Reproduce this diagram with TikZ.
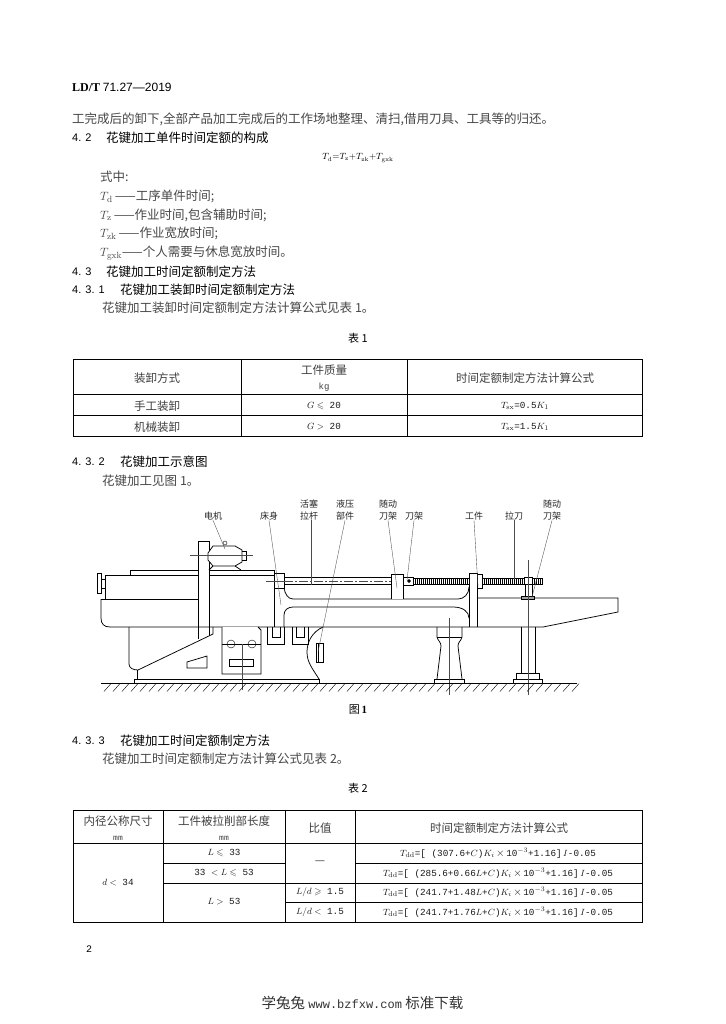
\documentclass[tikz,border=0pt]{standalone}
\usepackage[no-math]{fontspec}
\usepackage{amsmath,amssymb}
\setmainfont{Noto Sans CJK SC}
\newfontfamily\serifnum{Liberation Serif}
\newfontfamily\sansnum{Liberation Sans}
\newfontfamily\mononum{Liberation Mono}
\usetikzlibrary{calc}
\newcommand{\sym}[2]{$#1_{\mathrm{#2}}$}
\newcommand{\rowformula}[1]{$T_{\mathrm{dd}}$=[ (#1$K_i$\,{\fontsize{11}{12}\selectfont$\times$}\,10$^{-3}$+1.16]\,$I$-0.05}
\tikzset{
  bodytext/.style={anchor=west,inner sep=0pt,text=black!72,font=\fontsize{12.5}{14}\selectfont},
  headtext/.style={anchor=west,inner sep=0pt,text=black,font=\fontsize{12.5}{14}\selectfont},
  numtext/.style={anchor=west,inner sep=0pt,text=black,font=\fontsize{11}{13}\selectfont\sansnum},
  celltext/.style={inner sep=0pt,text=black!75,font=\fontsize{11.5}{15}\selectfont},
  formula/.style={inner sep=0pt,text=black!90,font=\fontsize{9.3}{12}\selectfont\mononum},
  partlabel/.style={inner sep=0pt,align=center,text=black!85,font=\fontsize{9}{12}\selectfont},
  part/.style={line width=0.75pt},
  thinpart/.style={line width=0.4pt},
  leader/.style={line width=0.35pt,black!70},
  axisline/.style={line width=0.35pt,black!70},
  outerrule/.style={line width=1pt},
  innerrule/.style={line width=0.5pt},
}
\begin{document}
\begin{tikzpicture}[x=1pt,y=-1pt]
        \useasboundingbox[fill=white](0,0)rectangle(725,1024);
        \node[anchor=west,inner sep=0pt,font=\fontsize{12}{13}\selectfont] (hdr) at (72,87){{\serifnum\bfseries LD/T}\ {\sansnum 71.27—2019}};
        \node[bodytext] (p1) at (72,119){工完成后的卸下,全部产品加工完成后的工作场地整理、清扫,借用刀具、工具等的归还。};
        \node[numtext] (n42) at (72,138){4. 2};
        \node[headtext] (h42) at (106,138){花键加工单件时间定额的构成};
        \node[inner sep=0pt,font=\fontsize{9}{11}\selectfont] (eq) at (358,158){$T_{\mathrm{d}}{=}T_{\mathrm{z}}{+}T_{\mathrm{zk}}{+}T_{\mathrm{gxk}}$};
        \node[bodytext] (w0) at (100,177){式中:};
        \node[bodytext] (w1) at (100,196){\sym{T}{d}\,——工序单件时间;};
        \node[bodytext] (w2) at (100,215){\sym{T}{z}\,——作业时间,包含辅助时间;};
        \node[bodytext] (w3) at (100,233){\sym{T}{zk}\,——作业宽放时间;};
        \node[bodytext] (w4) at (100,253){\sym{T}{gxk}——个人需要与休息宽放时间。};
        \node[numtext] (n43) at (72,272){4. 3};
        \node[headtext] (h43) at (106,272){花键加工时间定额制定方法};
        \node[numtext] (n431) at (72,290){4. 3. 1};
        \node[headtext] (h431) at (120,290){花键加工装卸时间定额制定方法};
        \node[bodytext] (p431) at (102,308){花键加工装卸时间定额制定方法计算公式见表 1。};
        \node[inner sep=0pt,font=\fontsize{11}{13}\selectfont] (t1cap) at (358,338){表 1};

        \draw[outerrule](73,359.5)rectangle(642,436.5);
        \draw[innerrule](73,394.5)--(642,394.5);
        \draw[innerrule](73,415.5)--(642,415.5);
        \draw[innerrule](241,359.5)--(241,436.5);
        \draw[innerrule](407,359.5)--(407,436.5);
        \node[celltext] (a0) at (157,378){装卸方式};
        \node[celltext,align=center] (b0) at (324,378.5){工件质量\\{\mononum\fontsize{9}{12}\selectfont kg}};
        \node[celltext] (c0) at (525,378){时间定额制定方法计算公式};
        \node[celltext] (a1) at (157,406){手工装卸};
        \node[formula] (b1) at (324,406){$G\leqslant$ 20};
        \node[formula] (c1) at (525,406){$T_{\mathrm{sx}}$=0.5$K_1$};
        \node[celltext] (a2) at (157,427){机械装卸};
        \node[formula] (b2) at (324,427){$G>$ 20};
        \node[formula] (c2) at (525,427){$T_{\mathrm{sx}}$=1.5$K_1$};

        \node[numtext] (n432) at (72,462){4. 3. 2};
        \node[headtext] (h432) at (120,462){花键加工示意图};
        \node[bodytext] (p432) at (102,481){花键加工见图 1。};

        \draw[part](97,573)rectangle(101,593);
        \draw[part](101,579)--(105.5,579)(101,588)--(105.5,588);
        \draw[part](130,575)--(130,570)--(274,570);
        \draw[part](105.5,599)--(105.5,575)--(274,575);
        \draw[part](274,570)--(274,627);
        \draw[part](101,599)--(198,599);
        \draw[part](101,599)--(101,618)..controls(101,624)and(104,627)..(110,627);
        \draw[part,fill=white](198,639)--(198,541)--(209,541)--(209,636);
        \draw[part](110,627)--(543,627)--(618,612)--(618,598)--(477,598);
        \draw[part](129,627)--(129,664)..controls(129,668)and(133,670)..(138,670)--(213,634)--(213,627);
        \draw[part](137,670)--(137,679);
        \draw[part](134,679)rectangle(319,683);
        \draw[part](187,662)--(207,656)--(207,668)--(187,668)--cycle;

        \draw[part,fill=white](208,553)--(213,546)--(235,546)--(242,550)--(242,562)--(235,566)--(213,566)--(208,560)--cycle;
        \draw[part](209,570)--(213,566)(235,566)--(241,570);
        \draw[part](242,551)--(246,551)--(246,560)--(242,560);
        \draw[thinpart](225,543)circle(2);
        \draw[axisline](190,555)--(253,555);

        \draw[part](274,573)rectangle(284,588);
        \draw[axisline](266,581)--(284,581);
        \draw[part](284,588)..controls(285,594)and(288,599)..(293,599)--(458,599)..controls(464,599)and(469,594)..(469,587);
        \draw[part](284,627)--(284,615)..controls(284,610)and(288,607)..(293,607)--(453,607)..controls(462,607)and(469,611)..(469,618);
        \draw[part](284,577)--(391,577)(284,584)--(391,584);
        \draw[axisline,dash pattern=on 9pt off 2pt on 2pt off 2pt](284,581)--(391,581);

        \draw[part,fill=white](222,627)--(222,674)--(261,674)--(261,630)--(258,627);
        \draw[thinpart](222,644)--(261,644);
        \draw[thinpart](231,644)circle(4)(252,644)circle(4);
        \draw[part](229,659)rectangle(253,666);
        \draw[axisline](242,644)--(242,690);
        \draw[part](267,627)--(267,644)--(284,644)--(284,627);
        \draw[part](272,627)--(272,637)--(280,637)--(280,627);
        \draw[part](292,627)--(292,644)--(308,644)--(308,627);
        \draw[part](296,627)--(296,637)--(304,637)--(304,627);
        \draw[part](323,627)..controls(312,632)and(307,642)..(307,652)..controls(307,662)and(312,668)..(319,679);
        \draw[part](316,643)rectangle(323,662);
        \draw[thinpart](318,643)--(318,662);

        \draw[part,fill=white](391,599)--(391,574)--(403,574)--(403,599);
        \draw[part](403,577)rectangle(413,585);
        \draw[thinpart,fill=black](409,581)circle(1.6);
        \draw[part](413,578)--(469,578)(413,584)--(469,584);
        \foreach \tx in {415,417,...,467}
            \draw[thinpart](\tx,578)--(\tx,584);
        \draw[part](469,627)--(469,573)--(477,573)--(477,627);
        \draw[part](477,574)--(482,574)--(482,588)--(477,588);
        \draw[part](482,578)--(524,578)(482,584)--(524,584);
        \foreach \tx in {484,486,...,522}
            \draw[thinpart](\tx,578)--(\tx,584);
        \draw[part](524,577)rectangle(532,584);
        \draw[part](532,578)--(542,578)--(542,584)--(532,584);
        \foreach \tx in {534,536,...,540}
            \draw[thinpart](\tx,578)--(\tx,584);
        \draw[part](525,584)--(525,596)(532,584)--(532,596);
        \draw[part](521,596)rectangle(534,599);

        \draw[part](437,627)--(437,637)..controls(438,641)and(441,642)..(441,646)--(437,679);
        \draw[part](462,627)--(462,637)..controls(461,641)and(458,642)..(458,646)--(462,679);
        \draw[thinpart](437,637)--(462,637);
        \draw[part](434,679)rectangle(464,683);
        \draw[axisline](449,618)--(449,695);

        \draw[part](521,627)--(521,673)(535,627)--(535,673);
        \draw[part](516,673)rectangle(539,679);
        \draw[part](513,679)rectangle(542,683);
        \draw[axisline](528,560)--(528,695);

        \draw[line width=1pt](101,683)--(577,683);
        \foreach \hx in {104,113,...,572}
            \draw[thinpart](\hx,691.5)--(\hx+7,683.5);

        \node[partlabel] (motor) at (213,516){电机};
        \node[partlabel] (bedbody) at (269,516){床身};
        \node[partlabel] (pistonrod) at (309,510){活塞\\拉杆};
        \node[partlabel] (hydpart) at (345,510){液压\\部件};
        \node[partlabel] (followa) at (388,510){随动\\刀架};
        \node[partlabel] (holder) at (414,516){刀架};
        \node[partlabel] (workpiece) at (474,516){工件};
        \node[partlabel] (broach) at (514,516){拉刀};
        \node[partlabel] (followb) at (552,510){随动\\刀架};
        \coordinate (motorend) at (225,549);
        \coordinate (bedend) at (281,605);
        \coordinate (pistonend) at (311,585);
        \coordinate (hydend) at (318,652);
        \coordinate (followaend) at (397,588);
        \coordinate (holderend) at (407,580);
        \coordinate (workend) at (478,587);
        \coordinate (broachend) at (514,579);
        \coordinate (followbend) at (532,597);
        \draw[leader](motor.south)--(motorend);
        \draw[leader](bedbody.south)--(bedend);
        \draw[leader](pistonrod.south-|pistonend)--(pistonend);
        \draw[leader](hydpart.south)--(hydend);
        \draw[leader](followa.south)--(followaend);
        \draw[leader](holder.south)--(holderend);
        \draw[leader](workpiece.south)--(workend);
        \draw[leader](broach.south)--(broachend);
        \draw[leader](followb.south)--(followbend);
        \node[inner sep=0pt,font=\fontsize{11}{13}\selectfont] (figcap) at (358,710){图\,{\serifnum\bfseries 1}};

        \node[numtext] (n433) at (72,741){4. 3. 3};
        \node[headtext] (h433) at (120,741){花键加工时间定额制定方法};
        \node[bodytext] (p433) at (102,759){花键加工时间定额制定方法计算公式见表 2。};
        \node[inner sep=0pt,font=\fontsize{11}{13}\selectfont] (t2cap) at (358,788){表 2};

        \draw[outerrule](73,810)rectangle(642,922);
        \draw[innerrule](73,843)--(642,843);
        \draw[innerrule](163,863)--(285,863)(355,863)--(642,863);
        \draw[innerrule](163,883)--(642,883);
        \draw[innerrule](285,902)--(642,902);
        \draw[innerrule](163,810)--(163,922);
        \draw[innerrule](285,810)--(285,922);
        \draw[innerrule](355,810)--(355,922);
        \node[celltext,align=center] (d0) at (118,828){内径公称尺寸\\{\mononum\fontsize{8}{12}\selectfont mm}};
        \node[celltext,align=center] (e0) at (224,828){工件被拉削部长度\\{\mononum\fontsize{8}{12}\selectfont mm}};
        \node[celltext] (f0) at (320,828){比值};
        \node[celltext] (g0) at (499,828){时间定额制定方法计算公式};
        \node[formula] (d1) at (118,883){$d<$ 34};
        \node[formula] (e1) at (224,853){$L\leqslant$ 33};
        \node[formula] (e2) at (224,873){33 $<L\leqslant$ 53};
        \node[formula] (e3) at (224,902){$L>$ 53};
        \node[celltext] (f1) at (320,863){—};
        \node[formula] (f2) at (320,892){$L/d\geqslant$ 1.5};
        \node[formula] (f3) at (320,912){$L/d<$ 1.5};
        \node[formula] (g1) at (498,853){\rowformula{307.6+$C$)}};
        \node[formula] (g2) at (498,873){\rowformula{285.6+0.66$L$+$C$)}};
        \node[formula] (g3) at (498,892){\rowformula{241.7+1.48$L$+$C$)}};
        \node[formula] (g4) at (498,912){\rowformula{241.7+1.76$L$+$C$)}};

        \node[inner sep=0pt,font=\fontsize{10}{12}\selectfont\mononum] (pg) at (89,949){2};
        \node[inner sep=0pt,text=black!80,font=\fontsize{14.5}{16}\selectfont] (foot) at (362.5,1003){学兔兔 {\mononum\fontsize{12}{14}\selectfont www.bzfxw.com} 标准下载};
    \end{tikzpicture}
\end{document}
